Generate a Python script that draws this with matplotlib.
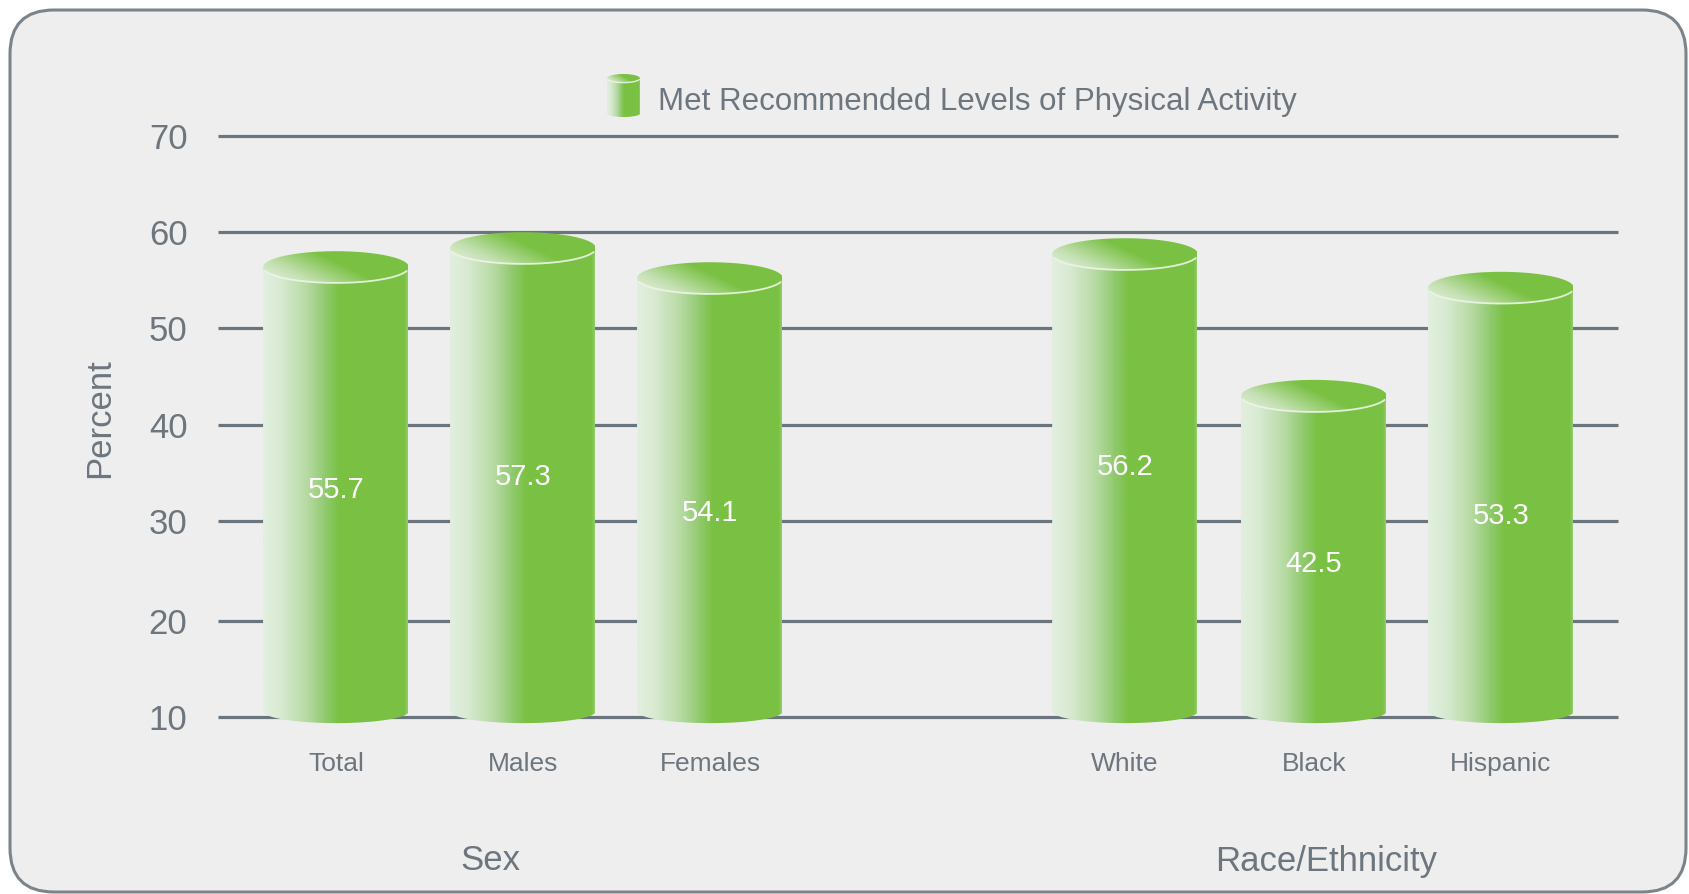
import numpy as np
import matplotlib
matplotlib.use('Agg')
import matplotlib.pyplot as plt
from matplotlib.colors import LinearSegmentedColormap
from matplotlib.patches import FancyBboxPatch, PathPatch
from matplotlib.path import Path

categories = ['Total', 'Males', 'Females', 'White', 'Black', 'Hispanic']
values = [55.7, 57.3, 54.1, 56.2, 42.5, 53.3]
# height the cylinders actually reach on the axis (centre of the top ellipse)
bar_tops = [56.35, 58.33, 55.2, 57.7, 43.0, 54.2]
y_ticks = [10, 20, 30, 40, 50, 60, 70]
groups = ['Sex', 'Race/Ethnicity']
legend_label = 'Met Recommended Levels of Physical Activity'

W, H = 1690, 894
plt.rcParams['font.family'] = ['Liberation Sans', 'DejaVu Sans']

TEXT = '#6d767e'
GRID = '#6b757d'
GREEN = '#7ac143'

# layout, in picture pixels
x_pos = [0, 1, 2, 4.22, 5.23, 6.23]
value_y = [33.2, 34.6, 30.8, 35.6, 25.7, 30.5]
BAR_W = 0.78

# the printed axis is slightly uneven, so the scale follows the gridlines
scale_vals = [0, 10, 20, 30, 40, 50, 60, 70, 80]
scale_px = [813, 717, 621, 521, 425, 328, 232, 136, 40]

body_cmap = LinearSegmentedColormap.from_list('body', [
    (0.0, '#e2efdf'), (0.12, '#d8ead1'), (0.3, '#b6daa2'), (0.42, '#92ca70'),
    (0.52, GREEN), (0.97, GREEN), (1.0, '#9ad07a')])
top_cmap = LinearSegmentedColormap.from_list('top', [
    (0.0, '#f0f6ec'), (0.3, '#c4e0b2'), (0.62, GREEN), (1.0, GREEN)])


def to_scale(v):
    return np.interp(v, scale_vals, -np.array(scale_px, dtype=float))


def from_scale(p):
    return np.interp(p, -np.array(scale_px, dtype=float), scale_vals)


def ell_points(cx, cy, a, b, t0, t1, n=60):
    t = np.linspace(t0, t1, n)
    return np.column_stack([cx + a * np.cos(t), cy + b * np.sin(t)])


def draw_cylinder(ax, fig, x0, x1, y_base, y_top, b_base, b_top, z=3, rim=1.3):
    cx = (x0 + x1) / 2
    a = (x1 - x0) / 2
    # body: bottom half ellipse, then straight up to the top ellipse centre
    low = ell_points(cx, y_base, a, b_base, np.pi, 2 * np.pi)
    verts = np.vstack([low, [[x1, y_top], [x0, y_top], low[0]]])
    clip = PathPatch(Path(verts), transform=ax.transData, fc='none', ec='none')
    ax.add_patch(clip)
    grad = np.linspace(0, 1, 256).reshape(1, -1)
    im = ax.imshow(grad, cmap=body_cmap, aspect='auto', zorder=z,
                   extent=[x0, x1, y_base - 1.3 * b_base, y_top], vmin=0, vmax=1)
    im.set_clip_box(fig.bbox)
    im.set_clip_path(clip)

    # lid: diagonal shade, light at the lower left
    lid = PathPatch(Path(ell_points(cx, y_top, a, b_top, 0, 2 * np.pi)),
                    transform=ax.transData, fc='none', ec='none')
    ax.add_patch(lid)
    u, v = np.meshgrid(np.linspace(0, 1, 128), np.linspace(0, 1, 64))
    im2 = ax.imshow(0.7 * u + 0.45 * v, cmap=top_cmap, aspect='auto', zorder=z + 1,
                    origin='lower', extent=[x0, x1, y_top - 1.4 * b_top, y_top + 1.4 * b_top],
                    vmin=0, vmax=1)
    im2.set_clip_box(fig.bbox)
    im2.set_clip_path(lid)
    front = ell_points(cx, y_top, a, b_top, 1.08 * np.pi, 1.92 * np.pi)
    ax.plot(front[:, 0], front[:, 1], color='#edf5e8', lw=rim, alpha=0.9, zorder=z + 2,
            clip_on=False, solid_capstyle='round')


fig = plt.figure(figsize=(W / 100, H / 100), dpi=100, facecolor='white')

frame = FancyBboxPatch((10 / W, 1 - 892 / H), 1676 / W, 882 / H,
                       boxstyle='round,pad=0,rounding_size=0.026',
                       mutation_aspect=W / H, transform=fig.transFigure,
                       fc='#eeeeee', ec='#7b848b', lw=2.2, clip_on=False, zorder=-1)
fig.add_artist(frame)

ax = fig.add_axes([218 / W, 1 - 717 / H, 1400 / W, 581 / H])
ax.patch.set_alpha(0)
for s in ax.spines.values():
    s.set_visible(False)

xlim = (-0.631, 6.856)
ylim = (10, 70)
px_per_unit = 581 / 60.0

ax.set_yscale('function', functions=(to_scale, from_scale))

for t in y_ticks:
    ax.axhline(t, color=GRID, lw=2.3, zorder=1, clip_on=False, solid_capstyle='butt')

for x, top, val, vy in zip(x_pos, bar_tops, values, value_y):
    draw_cylinder(ax, fig, x - BAR_W / 2, x + BAR_W / 2, 10.6, top,
                  12 / px_per_unit, 16 / px_per_unit)
    ax.text(x, vy, f'{val:.1f}', color='white', fontsize=21, ha='center',
            va='center', zorder=8)

ax.set_xlim(xlim)
ax.set_ylim(ylim)
ax.set_xticks(x_pos)
ax.set_xticklabels(categories, fontsize=19, color=TEXT)
ax.set_yticks(y_ticks)
ax.set_yticklabels([str(t) for t in y_ticks], fontsize=25, color=TEXT)
ax.minorticks_off()
ax.tick_params(axis='both', length=0)
ax.tick_params(axis='y', pad=22)
ax.tick_params(axis='x', pad=25.5)

fig.text(100 / W, 1 - 418 / H, 'Percent', rotation=90, fontsize=25, color=TEXT,
         ha='center', va='center')
fig.text(490 / W, 1 - 861 / H, groups[0], fontsize=25, color=TEXT, ha='center', va='center')
fig.text(1326 / W, 1 - 861 / H, groups[1], fontsize=25, color=TEXT, ha='center', va='center')

# legend, cylinder icon plus text
lax = fig.add_axes([607 / W, 1 - 117 / H, 33 / W, 43 / H])
lax.axis('off')
draw_cylinder(lax, fig, 0, 1, 0.08, 0.9, 0.08, 0.1, rim=1.0)
lax.set_xlim(0, 1)
lax.set_ylim(0, 1)
fig.text(658 / W, 1 - 102 / H, legend_label, fontsize=22.5, color=TEXT, ha='left', va='center')

fig.savefig('out.png', dpi=100, facecolor='white')
